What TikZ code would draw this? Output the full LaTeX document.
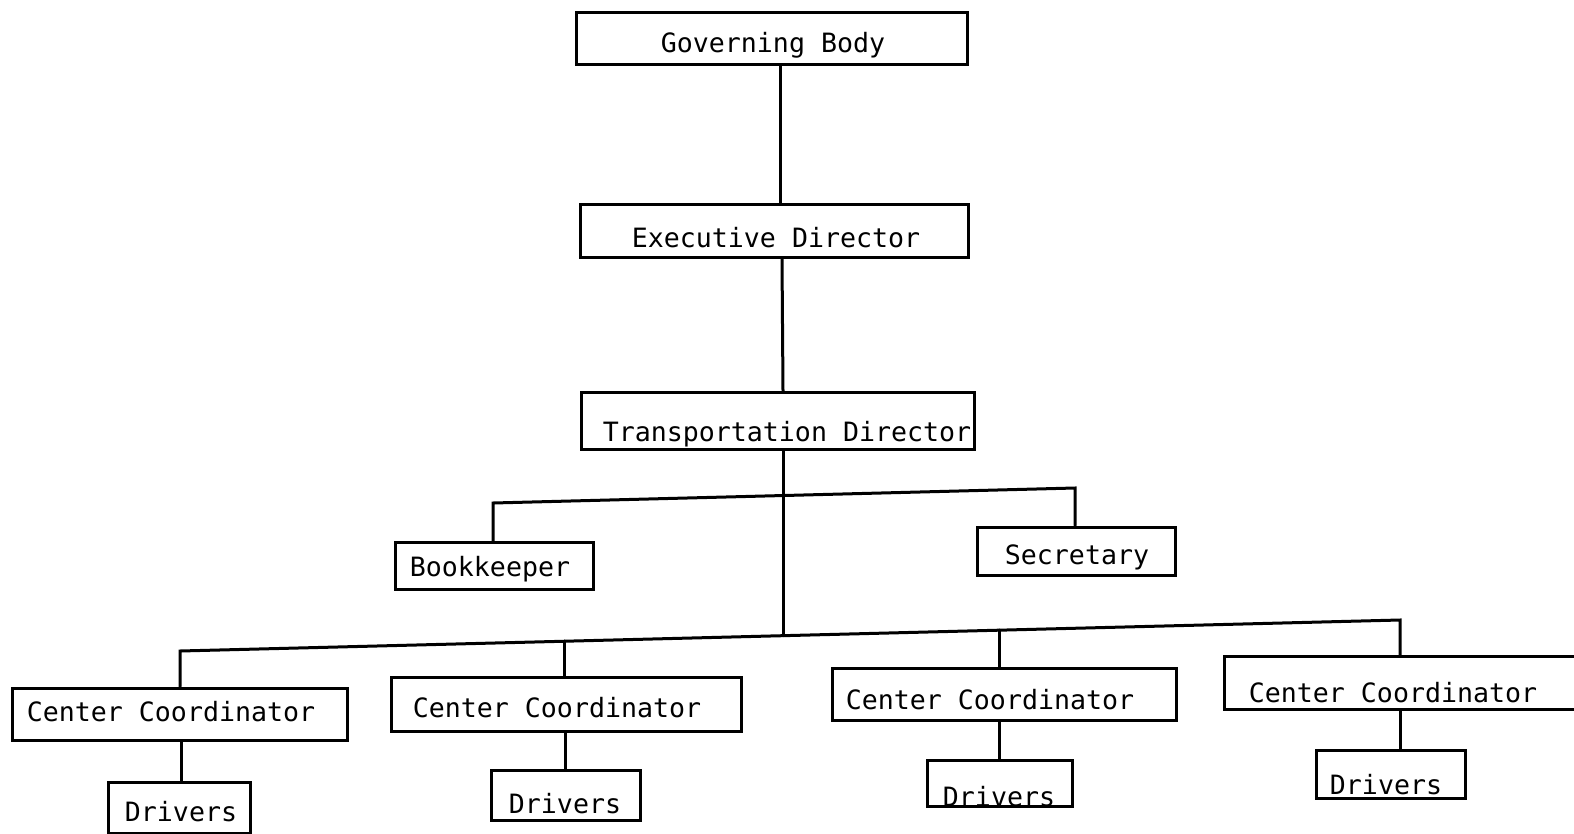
\documentclass[tikz,border=0pt]{standalone}
\usepackage{fontspec}
\setmainfont{DejaVu Sans Mono}
\begin{document}
\begin{tikzpicture}[x=1pt,y=-1pt,
  box/.style={draw, line width=3pt, inner sep=0pt, fill=none},
  txt/.style={font=\fontsize{26.6}{30}\selectfont, inner sep=0pt, anchor=base},
  conn/.style={line width=3pt, line cap=round}]
\clip (0,0) rectangle (1574,833);
\fill[white] (0,0) rectangle (1574,833);
% boxes
\node[box, minimum width=391pt, minimum height=52pt] (GB) at (772,38) {};
\node[box, minimum width=388pt, minimum height=53pt] (ED) at (774,231) {};
\node[box, minimum width=393pt, minimum height=57pt] (TD) at (778,421) {};
\node[box, minimum width=198pt, minimum height=47pt] (BK) at (494,566) {};
\node[box, minimum width=198pt, minimum height=48pt] (SEC) at (1076,551) {};
\node[box, minimum width=335pt, minimum height=52pt] (CC1) at (180,714) {};
\node[box, minimum width=350pt, minimum height=54pt] (CC2) at (566,704) {};
\node[box, minimum width=344pt, minimum height=52pt] (CC3) at (1004,694) {};
\node[box, minimum width=400pt, minimum height=53pt] (CC4) at (1424,683) {};
\node[box, minimum width=142pt, minimum height=51pt] (D1) at (179,808) {};
\node[box, minimum width=149pt, minimum height=50pt] (D2) at (566,795) {};
\node[box, minimum width=145pt, minimum height=46pt] (D3) at (1000,783) {};
\node[box, minimum width=149pt, minimum height=48pt] (D4) at (1391,774) {};
% texts
\node[txt] (GBt) at (773,52) {Governing Body};
\node[txt] (EDt) at (776,247) {Executive Director};
\node[txt] (TDt) at (787,441) {Transportation Director};
\node[txt] (BKt) at (490,576) {Bookkeeper};
\node[txt] (SECt) at (1077,564) {Secretary};
\node[txt] (CC1t) at (171,721) {Center Coordinator};
\node[txt] (CC2t) at (557,717) {Center Coordinator};
\node[txt] (CC3t) at (990,709) {Center Coordinator};
\node[txt] (CC4t) at (1393,702) {Center Coordinator};
\node[txt] (D1t) at (181,821) {Drivers};
\node[txt] (D2t) at (565,813) {Drivers};
\node[txt] (D3t) at (999,806) {Drivers};
\node[txt] (D4t) at (1386,794) {Drivers};
% bus coordinates
\coordinate (ubL) at (493,503);
\coordinate (ubR) at (1075,488);
\coordinate (lbL) at (180,651);
\coordinate (lbR) at (1400,620);
\coordinate (tdb) at (783,635.7);
\coordinate (b2) at (564,641.2);
\coordinate (b3) at (999,630.2);
% connectors
\draw[conn] ([xshift=8pt]GB.south) -- ([xshift=6pt]ED.north);
\draw[conn] ([xshift=8pt]ED.south) -- ([xshift=5pt]TD.north);
\draw[conn] ([xshift=5pt]TD.south) -- (tdb);
\draw[conn] (BK.north -| ubL) -- (ubL) -- (ubR) -- (SEC.north -| ubR);
\draw[conn] (CC1.north -| lbL) -- (lbL) -- (lbR) -- (CC4.north -| lbR);
\draw[conn] (b2) -- (b2 |- CC2.north);
\draw[conn] (b3) -- (b3 |- CC3.north);
\draw[conn] ([xshift=2pt]D1.north) -- ([xshift=2pt]D1.north |- CC1.south);
\draw[conn] ([xshift=-1pt]D2.north) -- ([xshift=-1pt]D2.north |- CC2.south);
\draw[conn] ([xshift=-1pt]D3.north) -- ([xshift=-1pt]D3.north |- CC3.south);
\draw[conn] ([xshift=9pt]D4.north) -- ([xshift=9pt]D4.north |- CC4.south);
\end{tikzpicture}
\end{document}
